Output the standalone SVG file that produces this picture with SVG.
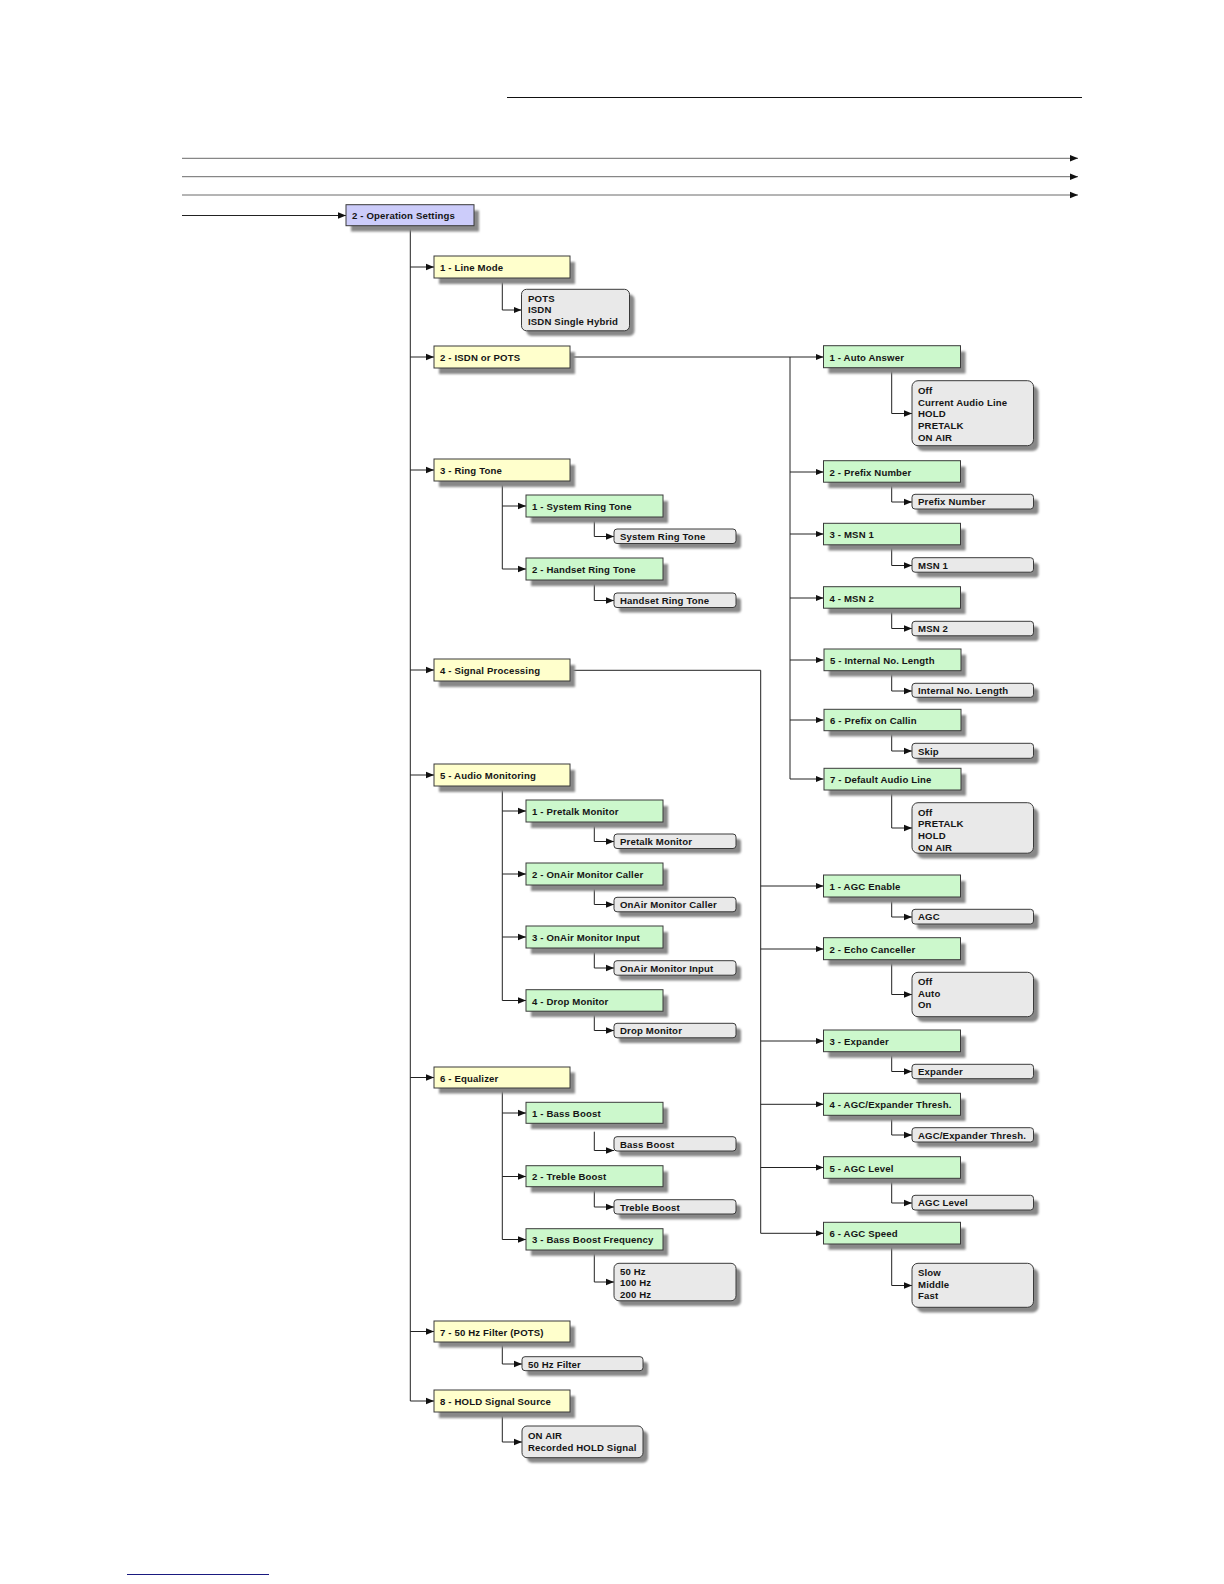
<svg xmlns="http://www.w3.org/2000/svg" width="1224" height="1584" viewBox="0 0 1224 1584">
<style>
text{font-family:"Liberation Sans",Arial,sans-serif;font-weight:bold;font-size:9.6px;letter-spacing:0.15px;fill:#151515}
.sh{fill:#888;filter:url(#blur)}
.p{fill:#ccccfa;stroke:#3a3a3a;stroke-width:1}
.y{fill:#ffffcc;stroke:#3a3a3a;stroke-width:1}
.g{fill:#ccf8cc;stroke:#3a3a3a;stroke-width:1}
.v{fill:#e9e9e9;stroke:#3a3a3a;stroke-width:1}
.c{fill:none;stroke:#222;stroke-width:1}
.cg{fill:none;stroke:#6a6a6a;stroke-width:1}
</style>
<defs>
<filter id="blur" x="-10%" y="-30%" width="120%" height="160%"><feGaussianBlur stdDeviation="0.8"/></filter>
<marker id="a" viewBox="0 0 8 8" refX="8" refY="4" markerWidth="8" markerHeight="8" markerUnits="userSpaceOnUse" orient="auto"><path d="M0,0.8 L8,4 L0,7.2 z" fill="#111"/></marker>
</defs>

<line x1="507" y1="97.5" x2="1082" y2="97.5" stroke="#111" stroke-width="1"/>
<line x1="127" y1="1574.5" x2="269" y2="1574.5" stroke="#1a1a80" stroke-width="1.2"/>

<g id="connectors">
<path class="cg" d="M182,158.3 H1078" marker-end="url(#a)"/>
<path class="cg" d="M182,176.7 H1078" stroke="#999" marker-end="url(#a)"/>
<path class="cg" d="M182,195 H1078" marker-end="url(#a)"/>
<path class="c" d="M182,215.5 H346" marker-end="url(#a)"/>
<path class="c" d="M410.3,226 V1401"/>
<path class="c" d="M410.3,267 H434" marker-end="url(#a)"/>
<path class="c" d="M410.3,357 H434" marker-end="url(#a)"/>
<path class="c" d="M410.3,470 H434" marker-end="url(#a)"/>
<path class="c" d="M410.3,670 H434" marker-end="url(#a)"/>
<path class="c" d="M410.3,775 H434" marker-end="url(#a)"/>
<path class="c" d="M410.3,1077.5 H434" marker-end="url(#a)"/>
<path class="c" d="M410.3,1331.5 H434" marker-end="url(#a)"/>
<path class="c" d="M410.3,1401 H434" marker-end="url(#a)"/>
<path class="c" d="M502.3,278 V310 H521.5" marker-end="url(#a)"/>
<path class="c" d="M570,357 H823.5" marker-end="url(#a)"/>
<path class="c" d="M790,357 V779"/>
<path class="c" d="M790,472 H823.5" marker-end="url(#a)"/>
<path class="c" d="M790,534 H823.5" marker-end="url(#a)"/>
<path class="c" d="M790,598 H823.5" marker-end="url(#a)"/>
<path class="c" d="M790,660 H823.5" marker-end="url(#a)"/>
<path class="c" d="M790,720 H823.5" marker-end="url(#a)"/>
<path class="c" d="M790,779 H823.5" marker-end="url(#a)"/>
<path class="c" d="M891.7,368 V413.5 H912" marker-end="url(#a)"/>
<path class="c" d="M891.7,483 V502 H912" marker-end="url(#a)"/>
<path class="c" d="M891.7,545 V565.5 H912" marker-end="url(#a)"/>
<path class="c" d="M891.7,609 V628.5 H912" marker-end="url(#a)"/>
<path class="c" d="M891.7,671 V691 H912" marker-end="url(#a)"/>
<path class="c" d="M891.7,731 V751 H912" marker-end="url(#a)"/>
<path class="c" d="M891.7,790 V828 H912" marker-end="url(#a)"/>
<path class="c" d="M502.3,481 V569 H526" marker-end="url(#a)"/>
<path class="c" d="M502.3,506 H526" marker-end="url(#a)"/>
<path class="c" d="M594.3,517 V536.5 H614" marker-end="url(#a)"/>
<path class="c" d="M594.3,580 V600.5 H614" marker-end="url(#a)"/>
<path class="c" d="M570,670.3 H760.7 V1233.3 H823.5" marker-end="url(#a)"/>
<path class="c" d="M760.7,886 H823.5" marker-end="url(#a)"/>
<path class="c" d="M760.7,949 H823.5" marker-end="url(#a)"/>
<path class="c" d="M760.7,1041 H823.5" marker-end="url(#a)"/>
<path class="c" d="M760.7,1104.3 H823.5" marker-end="url(#a)"/>
<path class="c" d="M760.7,1167.5 H823.5" marker-end="url(#a)"/>
<path class="c" d="M891.7,897.5 V917 H912" marker-end="url(#a)"/>
<path class="c" d="M891.7,960 V994.5 H912" marker-end="url(#a)"/>
<path class="c" d="M891.7,1052 V1071.5 H912" marker-end="url(#a)"/>
<path class="c" d="M891.7,1115.3 V1135 H912" marker-end="url(#a)"/>
<path class="c" d="M891.7,1178.3 V1203 H912" marker-end="url(#a)"/>
<path class="c" d="M891.7,1244 V1285.5 H912" marker-end="url(#a)"/>
<path class="c" d="M502.3,786 V1000.5 H526" marker-end="url(#a)"/>
<path class="c" d="M502.3,811 H526" marker-end="url(#a)"/>
<path class="c" d="M502.3,874 H526" marker-end="url(#a)"/>
<path class="c" d="M502.3,937 H526" marker-end="url(#a)"/>
<path class="c" d="M594.3,822 V841.5 H614" marker-end="url(#a)"/>
<path class="c" d="M594.3,885 V904.5 H614" marker-end="url(#a)"/>
<path class="c" d="M594.3,948 V968 H614" marker-end="url(#a)"/>
<path class="c" d="M594.3,1011 V1030.5 H614" marker-end="url(#a)"/>
<path class="c" d="M502.3,1088 V1239.5 H526" marker-end="url(#a)"/>
<path class="c" d="M502.3,1113 H526" marker-end="url(#a)"/>
<path class="c" d="M502.3,1176.5 H526" marker-end="url(#a)"/>
<path class="c" d="M594.3,1131.7 V1150.5 H614" marker-end="url(#a)"/>
<path class="c" d="M594.3,1187 V1207 H614" marker-end="url(#a)"/>
<path class="c" d="M594.3,1250 V1282 H614" marker-end="url(#a)"/>
<path class="c" d="M502.3,1342 V1364 H522" marker-end="url(#a)"/>
<path class="c" d="M502.3,1412 V1442 H522" marker-end="url(#a)"/>
</g>

<g id="n-operation-settings"><rect class="sh" x="351" y="210.5" width="128" height="21"/><rect class="p" x="346" y="204.7" width="128" height="21"/><text x="352" y="219">2 - Operation Settings</text></g>

<g id="n-line-mode"><rect class="sh" x="439" y="262" width="136" height="22"/><rect class="y" x="434" y="256" width="136" height="22"/><text x="440" y="271">1 - Line Mode</text></g>
<g id="n-isdn-or-pots"><rect class="sh" x="439" y="352" width="136" height="22"/><rect class="y" x="434" y="346" width="136" height="22"/><text x="440" y="361">2 - ISDN or POTS</text></g>
<g id="n-ring-tone"><rect class="sh" x="439" y="465" width="136" height="22"/><rect class="y" x="434" y="459" width="136" height="22"/><text x="440" y="474">3 - Ring Tone</text></g>
<g id="n-signal-processing"><rect class="sh" x="439" y="665" width="136" height="22"/><rect class="y" x="434" y="659" width="136" height="22"/><text x="440" y="674">4 - Signal Processing</text></g>
<g id="n-audio-monitoring"><rect class="sh" x="439" y="770" width="136" height="22"/><rect class="y" x="434" y="764" width="136" height="22"/><text x="440" y="779">5 - Audio Monitoring</text></g>
<g id="n-equalizer"><rect class="sh" x="439" y="1072.5" width="136" height="21"/><rect class="y" x="434" y="1067" width="136" height="21"/><text x="440" y="1081.5">6 - Equalizer</text></g>
<g id="n-50hz-filter"><rect class="sh" x="439" y="1326.5" width="136" height="21"/><rect class="y" x="434" y="1321" width="136" height="21"/><text x="440" y="1335.5">7 - 50 Hz Filter (POTS)</text></g>
<g id="n-hold-signal-source"><rect class="sh" x="439" y="1396" width="136" height="22"/><rect class="y" x="434" y="1390" width="136" height="22"/><text x="440" y="1405">8 - HOLD Signal Source</text></g>

<g id="v-line-mode"><rect class="sh" x="526.5" y="294.5" width="108" height="41.5" rx="5"/><rect class="v" x="521.5" y="289.3" width="108" height="41.5" rx="5"/><text x="528" y="301.5">POTS</text><text x="528" y="313.3">ISDN</text><text x="528" y="325">ISDN Single Hybrid</text></g>

<g id="n-system-ring-tone"><rect class="sh" x="531" y="501" width="137" height="22"/><rect class="g" x="526" y="495" width="137" height="22"/><text x="532" y="510">1 - System Ring Tone</text></g>
<g id="v-system-ring-tone"><rect class="sh" x="619" y="534" width="122" height="14.5" rx="3"/><rect class="v" x="614" y="529" width="122" height="14.5" rx="3"/><text x="620" y="540">System Ring Tone</text></g>
<g id="n-handset-ring-tone"><rect class="sh" x="531" y="564" width="137" height="22"/><rect class="g" x="526" y="558" width="137" height="22"/><text x="532" y="573">2 - Handset Ring Tone</text></g>
<g id="v-handset-ring-tone"><rect class="sh" x="619" y="598" width="122" height="14.5" rx="3"/><rect class="v" x="614" y="593" width="122" height="14.5" rx="3"/><text x="620" y="604">Handset Ring Tone</text></g>

<g id="n-pretalk-monitor"><rect class="sh" x="531" y="806" width="137" height="22"/><rect class="g" x="526" y="800" width="137" height="22"/><text x="532" y="815">1 - Pretalk Monitor</text></g>
<g id="v-pretalk-monitor"><rect class="sh" x="619" y="839" width="122" height="14.5" rx="3"/><rect class="v" x="614" y="834" width="122" height="14.5" rx="3"/><text x="620" y="845">Pretalk Monitor</text></g>
<g id="n-onair-monitor-caller"><rect class="sh" x="531" y="869" width="137" height="22"/><rect class="g" x="526" y="863" width="137" height="22"/><text x="532" y="878">2 - OnAir Monitor Caller</text></g>
<g id="v-onair-monitor-caller"><rect class="sh" x="619" y="902.5" width="122" height="14.5" rx="3"/><rect class="v" x="614" y="897.3" width="122" height="14.5" rx="3"/><text x="620" y="908.3">OnAir Monitor Caller</text></g>
<g id="n-onair-monitor-input"><rect class="sh" x="531" y="932" width="137" height="22"/><rect class="g" x="526" y="926" width="137" height="22"/><text x="532" y="941">3 - OnAir Monitor Input</text></g>
<g id="v-onair-monitor-input"><rect class="sh" x="619" y="966" width="122" height="14.5" rx="3"/><rect class="v" x="614" y="960.7" width="122" height="14.5" rx="3"/><text x="620" y="971.7">OnAir Monitor Input</text></g>
<g id="n-drop-monitor"><rect class="sh" x="531" y="995.5" width="137" height="21.5"/><rect class="g" x="526" y="989.7" width="137" height="21.5"/><text x="532" y="1004.5">4 - Drop Monitor</text></g>
<g id="v-drop-monitor"><rect class="sh" x="619" y="1028.5" width="122" height="14.5" rx="3"/><rect class="v" x="614" y="1023.3" width="122" height="14.5" rx="3"/><text x="620" y="1034.3">Drop Monitor</text></g>

<g id="n-bass-boost"><rect class="sh" x="531" y="1108" width="137" height="21"/><rect class="g" x="526" y="1102.3" width="137" height="21"/><text x="532" y="1116.8">1 - Bass Boost</text></g>
<g id="v-bass-boost"><rect class="sh" x="619" y="1142" width="122" height="14.3" rx="3"/><rect class="v" x="614" y="1136.7" width="122" height="14.3" rx="3"/><text x="620" y="1147.5">Bass Boost</text></g>
<g id="n-treble-boost"><rect class="sh" x="531" y="1171.5" width="137" height="21"/><rect class="g" x="526" y="1165.7" width="137" height="21"/><text x="532" y="1180.2">2 - Treble Boost</text></g>
<g id="v-treble-boost"><rect class="sh" x="619" y="1205" width="122" height="14.3" rx="3"/><rect class="v" x="614" y="1199.7" width="122" height="14.3" rx="3"/><text x="620" y="1210.5">Treble Boost</text></g>
<g id="n-bass-boost-frequency"><rect class="sh" x="531" y="1234.5" width="137" height="21.3"/><rect class="g" x="526" y="1228.7" width="137" height="21.3"/><text x="532" y="1243.3">3 - Bass Boost Frequency</text></g>
<g id="v-bass-boost-frequency"><rect class="sh" x="619" y="1268.5" width="122" height="37.5" rx="5"/><rect class="v" x="614" y="1263.3" width="122" height="37.5" rx="5"/><text x="620" y="1274.5">50 Hz</text><text x="620" y="1286">100 Hz</text><text x="620" y="1297.5">200 Hz</text></g>

<g id="v-50hz-filter"><rect class="sh" x="527" y="1362" width="121" height="14" rx="3"/><rect class="v" x="522" y="1356.7" width="121" height="14" rx="3"/><text x="528" y="1367.5">50 Hz Filter</text></g>
<g id="v-hold-signal-source"><rect class="sh" x="527" y="1431" width="121" height="31.7" rx="5"/><rect class="v" x="522" y="1426" width="121" height="31.7" rx="5"/><text x="528" y="1439">ON AIR</text><text x="528" y="1450.7">Recorded HOLD Signal</text></g>

<g id="n-auto-answer"><rect class="sh" x="828.5" y="351.5" width="137" height="22"/><rect class="g" x="823.5" y="345.7" width="137" height="22"/><text x="829.5" y="360.7">1 - Auto Answer</text></g>
<g id="v-auto-answer"><rect class="sh" x="917" y="386" width="121.5" height="65" rx="6"/><rect class="v" x="912" y="380.7" width="121.5" height="65" rx="6"/><text x="918" y="393.8">Off</text><text x="918" y="405.5">Current Audio Line</text><text x="918" y="417.2">HOLD</text><text x="918" y="428.9">PRETALK</text><text x="918" y="440.6">ON AIR</text></g>
<g id="n-prefix-number"><rect class="sh" x="828.5" y="466.5" width="137" height="21.5"/><rect class="g" x="823.5" y="460.7" width="137" height="21.5"/><text x="829.5" y="475.5">2 - Prefix Number</text></g>
<g id="v-prefix-number"><rect class="sh" x="917" y="499.5" width="121.5" height="14.7" rx="3"/><rect class="v" x="912" y="494.3" width="121.5" height="14.7" rx="3"/><text x="918" y="505.4">Prefix Number</text></g>
<g id="n-msn1"><rect class="sh" x="828.5" y="529" width="137" height="21.5"/><rect class="g" x="823.5" y="523.3" width="137" height="21.5"/><text x="829.5" y="538">3 - MSN  1</text></g>
<g id="v-msn1"><rect class="sh" x="917" y="563" width="121.5" height="14.5" rx="3"/><rect class="v" x="912" y="557.7" width="121.5" height="14.5" rx="3"/><text x="918" y="568.7">MSN 1</text></g>
<g id="n-msn2"><rect class="sh" x="828.5" y="592.5" width="137" height="21.5"/><rect class="g" x="823.5" y="586.7" width="137" height="21.5"/><text x="829.5" y="601.5">4 - MSN  2</text></g>
<g id="v-msn2"><rect class="sh" x="917" y="626.5" width="121.5" height="14.5" rx="3"/><rect class="v" x="912" y="621.3" width="121.5" height="14.5" rx="3"/><text x="918" y="632.3">MSN 2</text></g>
<g id="n-internal-no-length"><rect class="sh" x="829" y="654.8" width="137" height="21.7"/><rect class="g" x="824" y="649" width="137" height="21.7"/><text x="830" y="663.8">5 - Internal No. Length</text></g>
<g id="v-internal-no-length"><rect class="sh" x="917" y="688.5" width="121.5" height="14" rx="3"/><rect class="v" x="912" y="683.3" width="121.5" height="14" rx="3"/><text x="918" y="694.1">Internal No. Length</text></g>
<g id="n-prefix-on-callin"><rect class="sh" x="829" y="715" width="137" height="21.4"/><rect class="g" x="824" y="709.3" width="137" height="21.4"/><text x="830" y="724">6 - Prefix on Callin</text></g>
<g id="v-prefix-on-callin"><rect class="sh" x="917" y="748.5" width="121.5" height="15" rx="3"/><rect class="v" x="912" y="743.3" width="121.5" height="15" rx="3"/><text x="918" y="754.5">Skip</text></g>
<g id="n-default-audio-line"><rect class="sh" x="829" y="774" width="137" height="21.7"/><rect class="g" x="824" y="768.3" width="137" height="21.7"/><text x="830" y="783">7 - Default Audio Line</text></g>
<g id="v-default-audio-line"><rect class="sh" x="917" y="808" width="121.5" height="50.5" rx="6"/><rect class="v" x="912" y="802.7" width="121.5" height="50.5" rx="6"/><text x="918" y="815.5">Off</text><text x="918" y="827.2">PRETALK</text><text x="918" y="838.9">HOLD</text><text x="918" y="850.6">ON AIR</text></g>

<g id="n-agc-enable"><rect class="sh" x="828.5" y="881" width="137" height="22"/><rect class="g" x="823.5" y="875" width="137" height="22"/><text x="829.5" y="890">1 - AGC Enable</text></g>
<g id="v-agc-enable"><rect class="sh" x="917" y="914.5" width="121.5" height="14.7" rx="3"/><rect class="v" x="912" y="909.3" width="121.5" height="14.7" rx="3"/><text x="918" y="920.4">AGC</text></g>
<g id="n-echo-canceller"><rect class="sh" x="828.5" y="943.5" width="137" height="22"/><rect class="g" x="823.5" y="937.7" width="137" height="22"/><text x="829.5" y="952.7">2 - Echo Canceller</text></g>
<g id="v-echo-canceller"><rect class="sh" x="917" y="977.5" width="121.5" height="44.4" rx="6"/><rect class="v" x="912" y="972.3" width="121.5" height="44.4" rx="6"/><text x="918" y="985">Off</text><text x="918" y="996.7">Auto</text><text x="918" y="1008.4">On</text></g>
<g id="n-expander"><rect class="sh" x="828.5" y="1036" width="137" height="21.7"/><rect class="g" x="823.5" y="1030" width="137" height="21.7"/><text x="829.5" y="1044.8">3 - Expander</text></g>
<g id="v-expander"><rect class="sh" x="917" y="1069.5" width="121.5" height="14.4" rx="3"/><rect class="v" x="912" y="1064.3" width="121.5" height="14.4" rx="3"/><text x="918" y="1075.3">Expander</text></g>
<g id="n-agc-expander-thresh"><rect class="sh" x="828.5" y="1099" width="137" height="22"/><rect class="g" x="823.5" y="1093.3" width="137" height="22"/><text x="829.5" y="1108.3">4 - AGC/Expander Thresh.</text></g>
<g id="v-agc-expander-thresh"><rect class="sh" x="917" y="1133" width="121.5" height="14.3" rx="3"/><rect class="v" x="912" y="1127.7" width="121.5" height="14.3" rx="3"/><text x="918" y="1138.7">AGC/Expander Thresh.</text></g>
<g id="n-agc-level"><rect class="sh" x="828.5" y="1162.5" width="137" height="21.6"/><rect class="g" x="823.5" y="1156.7" width="137" height="21.6"/><text x="829.5" y="1171.5">5 - AGC Level</text></g>
<g id="v-agc-level"><rect class="sh" x="917" y="1200.5" width="121.5" height="14.7" rx="3"/><rect class="v" x="912" y="1195.3" width="121.5" height="14.7" rx="3"/><text x="918" y="1206.4">AGC Level</text></g>
<g id="n-agc-speed"><rect class="sh" x="828.5" y="1228" width="137" height="21.7"/><rect class="g" x="823.5" y="1222.3" width="137" height="21.7"/><text x="829.5" y="1237">6 - AGC Speed</text></g>
<g id="v-agc-speed"><rect class="sh" x="917" y="1268.5" width="121.5" height="44" rx="6"/><rect class="v" x="912" y="1263.3" width="121.5" height="44" rx="6"/><text x="918" y="1276">Slow</text><text x="918" y="1287.7">Middle</text><text x="918" y="1299.4">Fast</text></g>
</svg>
